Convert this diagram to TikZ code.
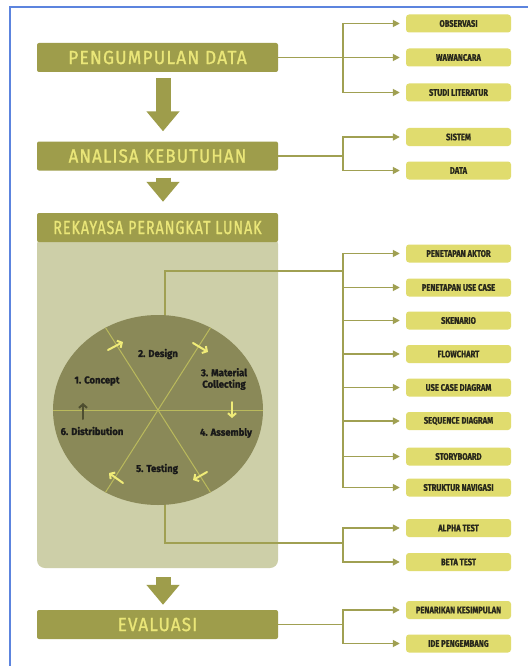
\documentclass[tikz,border=0pt]{standalone}
\usepackage{fontspec}
\usetikzlibrary{arrows.meta,shapes.geometric,calc}
\newfontfamily\titlefont[FakeStretch=0.86,LetterSpace=6,FakeBold=1.2]{Fira Sans}
\newfontfamily\tagfont[FakeStretch=0.8,FakeBold=0.8]{Fira Sans}
\newfontfamily\cyclefont[FakeStretch=0.95,FakeBold=1.4]{Fira Sans}
\newcommand{\hsq}[2]{\scalebox{#1}[1]{#2}}
\definecolor{olivebox}{RGB}{158,157,75}
\definecolor{titletext}{RGB}{234,230,120}
\definecolor{tagfill}{RGB}{224,220,110}
\definecolor{tagtext}{RGB}{40,40,28}
\definecolor{connc}{RGB}{160,160,82}
\definecolor{panelc}{RGB}{205,207,168}
\definecolor{circc}{RGB}{138,137,88}
\definecolor{divc}{RGB}{186,186,92}
\definecolor{cycyellow}{RGB}{240,236,120}
\definecolor{cycdark}{RGB}{78,78,48}
\definecolor{borderc}{RGB}{92,132,222}
\begin{document}
\begin{tikzpicture}[x=1pt,y=-1pt,
  mainbox/.style={fill=olivebox, rounded corners=2pt, minimum width=241pt, minimum height=29pt, inner sep=0pt, text=titletext, font=\titlefont\fontsize{19}{19}\selectfont},
  tagbox/.style={fill=tagfill, rounded corners=3pt, minimum width=105pt, minimum height=18pt, inner sep=0pt, text=tagtext, font=\tagfont\bfseries\fontsize{9.5}{9.5}\selectfont},
  conn/.style={draw=connc, line width=1.6pt},
  tipconn/.style={conn, -{Triangle[length=7pt,width=7pt]}, shorten >=6pt},
  bigarrow/.style={draw=olivebox, line width=15pt, -{Triangle[length=20pt,width=32pt]}},
  cyc/.style={draw=cycyellow, line width=2pt, line cap=round, -{Straight Barb[length=3.5pt,width=8pt]}},
  cyclabel/.style={font=\cyclefont\bfseries\fontsize{10}{11.5}\selectfont, text=black!90, align=center, inner sep=0pt},
  divline/.style={draw=divc, line width=1pt}
]
\useasboundingbox (0,0) rectangle (527,666);
\fill[white] (0,0) rectangle (527,666);
\draw[borderc, line width=1.6pt] (10,670) -- (10,7) -- (530,7);

% panel
\node[fill=panelc, rounded corners=8pt, minimum width=241pt, minimum height=332pt, inner sep=0pt] (panel) at (157.5,402) {};

% main boxes
\node[mainbox] (pd) at (157.5,57.5) {\hsq{1.06}{PENGUMPULAN DATA}};
\node[mainbox] (ak) at (157.5,156) {\hsq{1.03}{ANALISA KEBUTUHAN}};
\node[mainbox] (rpl) at (157.5,227.5) {\hsq{0.87}{REKAYASA PERANGKAT LUNAK}};
\node[mainbox] (ev) at (157.5,624.5) {\hsq{1.04}{EVALUASI}};

% big arrows
\draw[bigarrow, shorten <=6pt, shorten >=10pt] ([xshift=5.5pt]pd.south) -- ([xshift=5.5pt]ak.north);
\draw[bigarrow, shorten <=7pt, shorten >=11pt] ([xshift=5.5pt]ak.south) -- ([xshift=5.5pt]rpl.north);
\draw[bigarrow, shorten <=9pt, shorten >=5pt] ([xshift=5.5pt]panel.south) -- ([xshift=5.5pt]ev.north);

% tag boxes
\foreach \n/\y/\t in {obs/23.5/OBSERVASI, waw/57.5/WAWANCARA, stu/92.5/STUDI LITERATUR,
  sis/137/SISTEM, dat/170.5/DATA,
  pa/253.5/PENETAPAN AKTOR, puc/287.5/PENETAPAN USE CASE, sk/320.5/SKENARIO, fc/354/FLOWCHART,
  ucd/387.5/USE CASE DIAGRAM, sd/421/SEQUENCE DIAGRAM, sb/456.5/STORYBOARD, sn/487.5/STRUKTUR NAVIGASI,
  at/528/ALPHA TEST, bt/562/BETA TEST, pk/610/PENARIKAN KESIMPULAN, ip/643.5/IDE PENGEMBANG}
  \node[tagbox] (\n) at (458.5,\y) {\t};

% connectors
\coordinate (j1) at (343,57.5);
\draw[conn] (pd.east) -- (j1);
\foreach \n in {obs,waw,stu} \draw[tipconn] (j1) |- (\n.west);
\coordinate (j2) at (343,156);
\draw[conn] (ak.east) -- (j2);
\foreach \n in {sis,dat} \draw[tipconn] (j2) |- (\n.west);
\coordinate (ctop) at (165,330);
\coordinate (j3) at (343,271);
\draw[conn] (ctop) |- (j3);
\foreach \n in {pa,puc,sk,fc,ucd,sd,sb,sn} \draw[tipconn] (j3) |- (\n.west);
\coordinate (cbot) at (165,490);
\coordinate (j4) at (343,543);
\draw[conn] (cbot) |- (j4);
\foreach \n in {at,bt} \draw[tipconn] (j4) |- (\n.west);
\coordinate (j5) at (343,624.5);
\draw[conn] (ev.east) -- (j5);
\foreach \n in {pk,ip} \draw[tipconn] (j5) |- (\n.west);

% cycle
\node[ellipse, fill=circc, minimum width=210pt, minimum height=190pt, inner sep=0pt] (circ) at (158,410) {};
\draw[divline] (263,410) -- (53,410);
\draw[divline] (210.5,327.7) -- (105.5,492.3);
\draw[divline] (105.5,327.7) -- (210.5,492.3);

\draw[cyc] (108,350) -- (123,342);
\draw[cyc] (193,343) -- (208,352);
\draw[cyc] (232,402) -- (232,418);
\draw[cyc] (207,472) -- (193,480);
\draw[cyc] (123,483) -- (109,473);
\draw[cyc, draw=cycdark] (83,419) -- (83,403);

\node[cyclabel] (l1) at (97,381) {1. Concept};
\node[cyclabel] (l2) at (158,354) {2. Design};
\node[cyclabel] (l3) at (224,379) {3. Material\\Collecting};
\node[cyclabel] (l4) at (226,433) {4. Assembly};
\node[cyclabel] (l5) at (157,469) {5. Testing};
\node[cyclabel] (l6) at (92,431) {6. Distribution};
\end{tikzpicture}
\end{document}
